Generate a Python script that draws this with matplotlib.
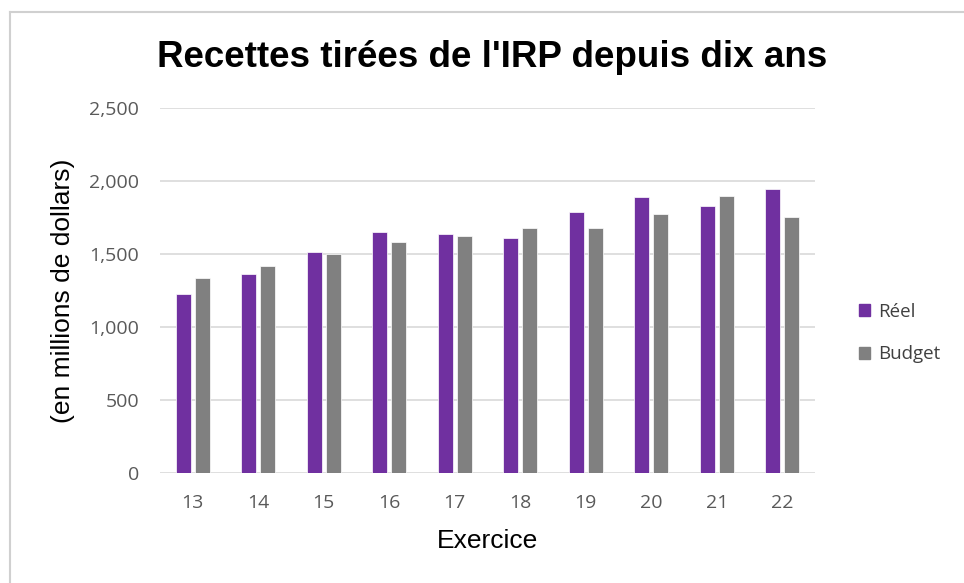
import numpy as np
import matplotlib.pyplot as plt
from matplotlib.ticker import FuncFormatter
from matplotlib.lines import Line2D
from matplotlib.patches import Patch

# données
exercices = ['13', '14', '15', '16', '17', '18', '19', '20', '21', '22']
reel = [1227, 1365, 1515, 1653, 1637, 1612, 1790, 1887, 1832, 1942]
budget = [1337, 1420, 1500, 1584, 1626, 1681, 1681, 1777, 1900, 1750]

violet = '#7030A0'
gris = '#808080'

fig = plt.figure(figsize=(9.64, 5.83), dpi=100)
ax = fig.add_axes([160 / 964, 1 - 473 / 583, 655 / 964, 365 / 583])

x = np.arange(len(exercices))
w = 0.23
ax.bar(x - 0.145, reel, width=w, color=violet, edgecolor='white', linewidth=0.5, zorder=3)
ax.bar(x + 0.145, budget, width=w, color=gris, edgecolor='white', linewidth=0.5, zorder=3)

ax.set_xlim(-0.5, len(exercices) - 0.5)
ax.set_ylim(0, 2500)
ax.set_yticks(np.arange(0, 2501, 500))
ax.yaxis.set_major_formatter(FuncFormatter(lambda v, p: f'{int(v):,}'))
ax.set_xticks(x)
ax.set_xticklabels(exercices)
ax.grid(axis='y', color='#d9d9d9', linewidth=1.2, zorder=0)
for s in ax.spines.values():
    s.set_visible(False)
ax.tick_params(axis='y', length=0, labelsize=14, labelcolor='#595959', pad=15)
ax.tick_params(axis='x', length=0, labelsize=14, labelcolor='#595959', pad=15)
for lab in ax.get_xticklabels() + ax.get_yticklabels():
    lab.set_family('Open Sans')

ax.set_xlabel('Exercice', fontsize=19, family='Liberation Sans', labelpad=12)
ax.set_ylabel('(en millions de dollars)', fontsize=19, family='Liberation Sans', labelpad=10)

fig.text(492 / 964, 1 - 67 / 583, "Recettes tirées de l'IRP depuis dix ans", ha='center', va='baseline',
         fontsize=26.5, fontweight='bold', family='Liberation Sans')

handles = [Patch(color=violet), Patch(color=gris)]
leg = fig.legend(handles, ['Réel', 'Budget'], loc='center left', bbox_to_anchor=(842 / 964, 1 - 333 / 583),
                 frameon=False, handlelength=0.6, handleheight=0.6, handletextpad=0.4,
                 labelspacing=1.3, prop={'family': 'Open Sans', 'size': 13.5})
for t in leg.get_texts():
    t.set_color('#404040')

# bordures de la zone
fig.add_artist(Line2D([10 / 964, 10 / 964], [0, 1 - 12 / 583], color='#d0d0d0', linewidth=1.5))
fig.add_artist(Line2D([10 / 964, 1], [1 - 12 / 583, 1 - 12 / 583], color='#d0d0d0', linewidth=1.5))

fig.savefig('out.png', dpi=100)
